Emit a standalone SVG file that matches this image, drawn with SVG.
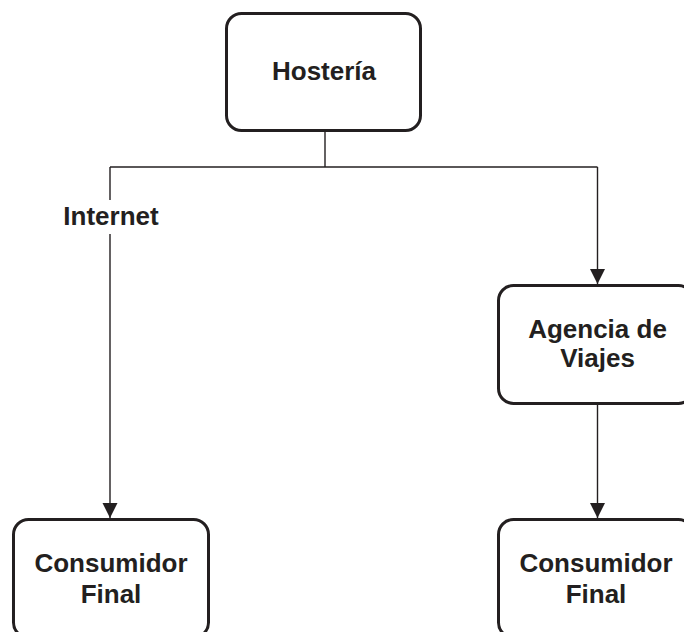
<svg xmlns="http://www.w3.org/2000/svg" width="684" height="632" viewBox="0 0 684 632">
<style>
.box{fill:#fff;stroke:#231f20;stroke-width:3}
.lbl{font-family:"Liberation Sans",Arial,sans-serif;font-weight:bold;font-size:26px;fill:#231f20;text-anchor:middle}
.con{fill:none;stroke:#231f20;stroke-width:1.4}
</style>
<defs>
<marker id="arr" markerUnits="userSpaceOnUse" markerWidth="16" markerHeight="16" refX="15" refY="7.5" orient="auto">
<path d="M0,0 L15,7.5 L0,15 Z" fill="#231f20"/>
</marker>
</defs>
<rect width="684" height="632" fill="#fff"/>
<g id="connectors">
<path class="con" d="M325,130 V167"/>
<path class="con" d="M110,167 H597.5"/>
<path class="con" d="M110,167 V200"/>
<path class="con" d="M110,234 V518" marker-end="url(#arr)"/>
<path class="con" d="M597.5,167 V284" marker-end="url(#arr)"/>
<path class="con" d="M597.5,403 V518" marker-end="url(#arr)"/>
<text class="lbl" x="111" y="225">Internet</text>
</g>
<g id="hosteria">
<rect class="box" x="226.5" y="13.5" width="194" height="117" rx="15"/>
<text class="lbl" x="324" y="80">Hostería</text>
</g>
<g id="agencia">
<rect class="box" x="498.5" y="285.5" width="195" height="118" rx="15"/>
<text class="lbl" x="597.5" y="338">Agencia de</text>
<text class="lbl" x="597.5" y="367">Viajes</text>
</g>
<g id="consumidor1">
<rect class="box" x="13.5" y="519.5" width="195" height="118" rx="15"/>
<text class="lbl" x="111" y="572">Consumidor</text>
<text class="lbl" x="111" y="603">Final</text>
</g>
<g id="consumidor2">
<rect class="box" x="498.5" y="519.5" width="195" height="118" rx="15"/>
<text class="lbl" x="596" y="572">Consumidor</text>
<text class="lbl" x="596" y="603">Final</text>
</g>
</svg>
